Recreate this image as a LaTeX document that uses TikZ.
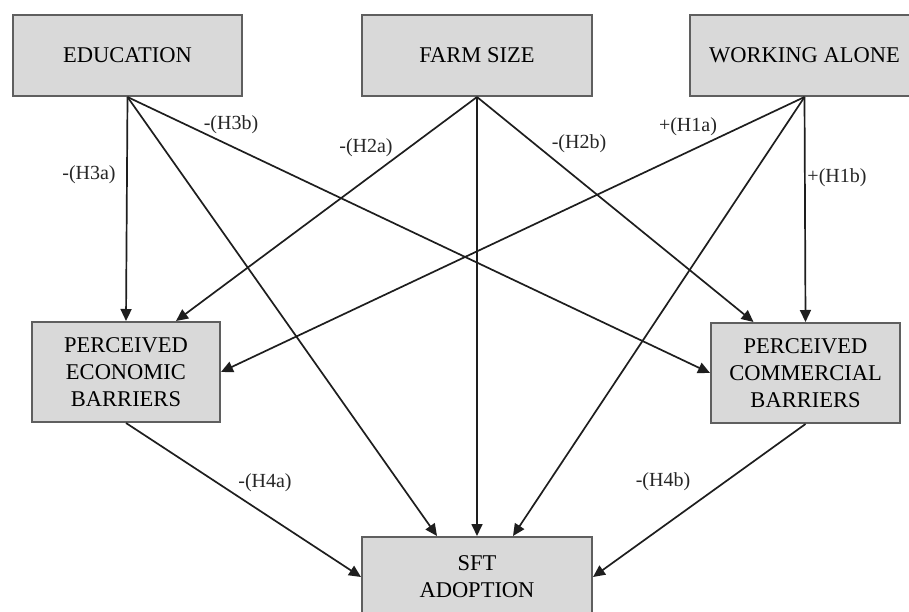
\documentclass[tikz,border=0pt]{standalone}
\usepackage{fontspec}
\setmainfont{Liberation Serif}
\usetikzlibrary{arrows.meta}
\definecolor{boxfill}{RGB}{217,217,217}
\definecolor{boxline}{RGB}{95,95,95}
\definecolor{linkcol}{RGB}{30,30,30}
\begin{document}
\begin{tikzpicture}[x=1pt,y=-1pt,
  varbox/.style={draw=boxline,line width=2pt,fill=boxfill,rectangle,align=center,
    inner sep=0pt,font=\fontsize{22.5}{27}\selectfont},
  hyp/.style={font=\fontsize{20}{24}\selectfont,inner sep=0pt,text=black!85},
  link/.style={draw=linkcol,line width=1.7pt,-{Triangle[length=12pt,width=11pt]}}]
\useasboundingbox (0,0) rectangle (909,612);
\clip (0,0) rectangle (909,612);
\fill[white] (0,0) rectangle (909,612);
% boxes
\node[varbox,minimum width=229pt,minimum height=81pt] (edu) at (127.5,55.5) {EDUCATION};
\node[varbox,minimum width=230pt,minimum height=81pt] (farm) at (477,55.5) {FARM SIZE};
\node[varbox,minimum width=229pt,minimum height=81pt] (wa) at (804.5,55.5) {WORKING ALONE};
\node[varbox,minimum width=188pt,minimum height=100pt] (peb) at (126,372) {PERCEIVED\\ECONOMIC\\BARRIERS};
\node[varbox,minimum width=189pt,minimum height=100pt] (pcb) at (805.5,373) {PERCEIVED\\COMMERCIAL\\BARRIERS};
\node[varbox,minimum width=230pt,minimum height=80pt] (sft) at (477,577) {SFT\\ADOPTION};
% connectors
\draw[link] (edu.south) -- (peb.north);
\draw[link] (edu.south) -- ([xshift=-40pt]sft.north);
\draw[link] (edu.south) -- (pcb.west);
\draw[link] (farm.south) -- ([xshift=50pt]peb.north);
\draw[link] (farm.south) -- (sft.north);
\draw[link] (farm.south) -- ([xshift=-52pt]pcb.north);
\draw[link] (wa.south) -- (peb.east);
\draw[link] (wa.south) -- ([xshift=36pt]sft.north);
\draw[link] (wa.south) -- (pcb.north);
\draw[link] (peb.south) -- (sft.west);
\draw[link] (pcb.south) -- (sft.east);
% labels
\node[hyp] (h3a) at (89,175) {-(H3a)};
\node[hyp] (h3b) at (231,125) {-(H3b)};
\node[hyp] (h2a) at (366,148) {-(H2a)};
\node[hyp] (h2b) at (579,144) {-(H2b)};
\node[hyp] (h1a) at (688,127) {+(H1a)};
\node[hyp] (h1b) at (837,178) {+(H1b)};
\node[hyp] (h4a) at (265,483) {-(H4a)};
\node[hyp] (h4b) at (663,482) {-(H4b)};
\end{tikzpicture}
\end{document}
